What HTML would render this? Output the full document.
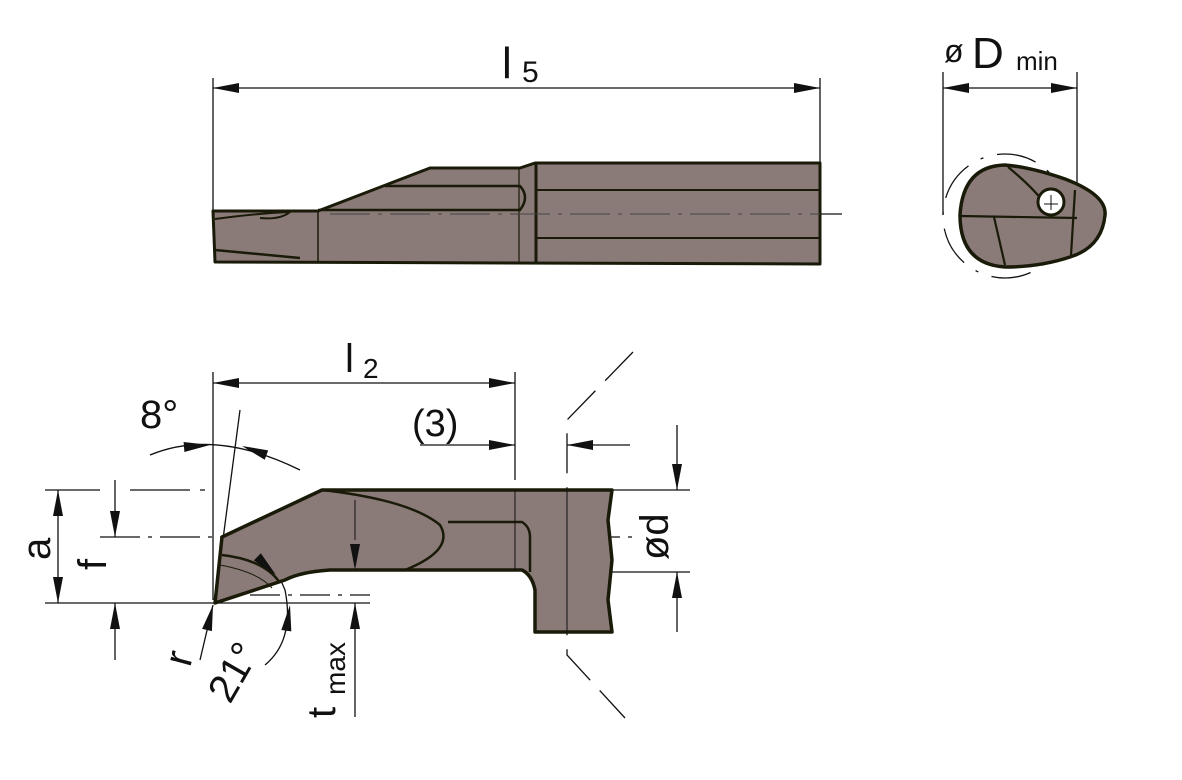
<!DOCTYPE html>
<html><head><meta charset="utf-8"><style>
html,body{margin:0;padding:0;background:#fff;}
svg{display:block;font-family:"Liberation Sans",Arial,sans-serif;}
</style></head><body>
<svg width="1182" height="780" viewBox="0 0 1182 780" xmlns="http://www.w3.org/2000/svg">
<g stroke="#111" fill="none" stroke-width="1.3">
<line x1="213" y1="78" x2="213" y2="210"/>
<line x1="820" y1="78" x2="820" y2="165"/>
<line x1="213" y1="88" x2="820" y2="88"/>
<line x1="820" y1="214" x2="842" y2="214"/>
</g>
<g stroke="#1a1a08" stroke-width="3" fill="#8a7b79" stroke-linejoin="round">
<path d="M213,211 L318,211 L430,168 L520,168 L535,163 L820,163 L820,264 L215,262 Z"/>
</g>
<g stroke="#1a1a08" stroke-width="2" fill="none">
<line x1="536" y1="163" x2="536" y2="264" stroke-width="3"/>
<line x1="536" y1="190" x2="820" y2="190"/>
<line x1="536" y1="238" x2="820" y2="238"/>
<line x1="318" y1="211" x2="318" y2="262" stroke-width="1.5"/>
<path d="M385,186 L520,186 Q530,197 520,210 L318,210" stroke-width="2.5"/>
<line x1="519" y1="168" x2="519" y2="263" stroke-width="1.2"/>
<path d="M215,219 Q260,213 290,212 Q280,220 260,218"/>
<path d="M215,250 L300,258" stroke-width="2.5"/>
</g>
<g stroke="#444" stroke-width="1" stroke-dasharray="40,8,4,8"><line x1="330" y1="214" x2="820" y2="214"/></g>

<!-- end view -->
<g stroke="#111" fill="none" stroke-width="1.3">
<line x1="943" y1="72" x2="943" y2="215"/>
<line x1="1077" y1="72" x2="1077" y2="190"/>
<line x1="943" y1="88" x2="1077" y2="88"/>
<circle cx="1005" cy="216" r="62" stroke-dasharray="40,14,3,14"/>
</g>
<path d="M1005,165 Q1030,167 1065,179 Q1107,195 1105,215 Q1102,247 1070,257 Q1040,267 1005,267 Q960,264 960,215 Q963,166 1005,165 Z" fill="#8a7b79" stroke="#1a1a08" stroke-width="3.5"/>
<g stroke="#1a1a08" stroke-width="2.2" fill="none">
<line x1="961" y1="216" x2="1077" y2="218"/>
<path d="M1008,167 Q1030,185 1042,200"/>
<line x1="994" y1="217" x2="1005" y2="265"/>
<line x1="1075" y1="190" x2="1071" y2="255"/>
</g>
<circle cx="1051" cy="202" r="13" fill="#fff" stroke="#1a1a08" stroke-width="3"/>
<g stroke="#111" stroke-width="1"><line x1="1044" y1="204" x2="1058" y2="204"/><line x1="1051" y1="195" x2="1051" y2="210"/></g>

<!-- side view -->
<g stroke="#111" fill="none" stroke-width="1.3">
<line x1="213" y1="372" x2="213" y2="600"/>
<line x1="515" y1="372" x2="515" y2="480"/>
<line x1="213" y1="383" x2="515" y2="383"/>
<line x1="240" y1="410" x2="215" y2="600"/>
<path d="M150,455 Q215,428 300,470"/>
<line x1="420" y1="445" x2="515" y2="445"/>
<line x1="630" y1="445" x2="567" y2="445"/>
<path d="M633,352 L567,420 L567,655 L625,718" stroke-dasharray="40,14"/>
<line x1="45" y1="490" x2="100" y2="490"/>
<line x1="130" y1="490" x2="205" y2="490" stroke-dasharray="60,10"/>
<line x1="45" y1="603" x2="370" y2="603"/>
<line x1="100" y1="537" x2="640" y2="537" stroke-dasharray="40,8,4,8"/>
<line x1="250" y1="595" x2="370" y2="595" stroke-dasharray="30,8,4,8"/>
<line x1="58" y1="490" x2="58" y2="603"/>
<line x1="115" y1="480" x2="115" y2="537"/>
<line x1="115" y1="660" x2="115" y2="603"/>
<line x1="677" y1="425" x2="677" y2="490"/>
<line x1="677" y1="632" x2="677" y2="572"/>
<line x1="612" y1="490" x2="690" y2="490"/>
<line x1="535" y1="572" x2="690" y2="572"/>
<line x1="355" y1="510" x2="355" y2="570"/>
<line x1="355" y1="717" x2="355" y2="603"/>
<line x1="200" y1="660" x2="213" y2="605"/>
<path d="M230,558 Q265,540 285,590 Q295,640 265,665"/>
</g>
<path d="M215,603 L222,537 L322,490 L612,490 L608,520 L612,560 L608,600 L612,632 L535,632 L535,590 Q532,575 522,570 L330,570 Q300,572 285,580 Z" fill="#8a7b79" stroke="#1a1a08" stroke-width="3.5" stroke-linejoin="round"/>
<g stroke="#1a1a08" stroke-width="2.5" fill="none">
<path d="M322,490 Q410,500 440,525 Q455,550 405,570"/>
<path d="M448,522 L522,522 Q530,527 530,537 L530,572"/>
<path d="M222,555 Q265,560 280,583"/>
<path d="M220,565 Q258,572 272,588" stroke-width="1"/>
</g>
<g stroke="#111" stroke-width="1" fill="none">
<line x1="515" y1="490" x2="515" y2="570"/>
<line x1="567" y1="490" x2="567" y2="632"/>
<line x1="355" y1="500" x2="355" y2="540"/>
</g>

<!-- arrowheads -->
<g fill="#111" stroke="none">
<polygon points="213,88 239,83 239,93"/>
<polygon points="820,88 794,83 794,93"/>
<polygon points="943,88 969,83 969,93"/>
<polygon points="1077,88 1051,83 1051,93"/>
<polygon points="213,383 239,378 239,388"/>
<polygon points="515,383 489,378 489,388"/>
<polygon points="515,445 489,440 489,450"/>
<polygon points="567,445 593,440 593,450"/>
<polygon points="58,490 53,516 63,516"/>
<polygon points="58,603 53,577 63,577"/>
<polygon points="115,537 110,511 120,511"/>
<polygon points="115,603 110,629 120,629"/>
<polygon points="677,490 672,464 682,464"/>
<polygon points="677,572 672,598 682,598"/>
<polygon points="355,570 350,544 360,544"/>
<polygon points="355,603 350,629 360,629"/>
<polygon points="213,605 211.9,631.1 202.1,628.9"/>
<polygon points="276,575 253.8,560.4 260.8,553.2"/>
<polygon points="290,605 291.3,631.4 281.3,630"/>
<polygon points="210,445 184.4,452 183.6,442"/>
<polygon points="242,446 268.2,450.4 264.7,459.8"/>
</g>

<g fill="#111">
<text x="502" y="78" font-size="44">l</text><text x="522" y="82" font-size="30">5</text>
<text x="944" y="62" font-size="32">ø</text><text x="972" y="68" font-size="44">D</text><text x="1016" y="70" font-size="26">min</text>
<text x="345" y="372" font-size="40">l</text><text x="363" y="378" font-size="28">2</text>
<text x="140" y="428" font-size="40">8°</text>
<text x="412" y="436" font-size="38">(3)</text>
<text transform="translate(50,560) rotate(-90)" font-size="40">a</text>
<text transform="translate(106,570) rotate(-90)" font-size="40">f</text>
<text transform="translate(668,560) rotate(-90)" font-size="40">ød</text>
<text transform="translate(190,668) rotate(-75)" font-size="40">r</text>
<text transform="translate(230,705) rotate(-60)" font-size="40">21°</text>
<text transform="translate(335,718) rotate(-90)" font-size="40">t</text>
<text transform="translate(345,695) rotate(-90)" font-size="28">max</text>
</g>
</svg>
</body></html>
